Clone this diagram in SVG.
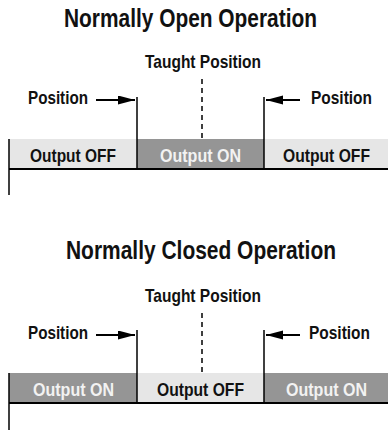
<svg xmlns="http://www.w3.org/2000/svg" width="388" height="430" viewBox="0 0 388 430">
<defs>
<marker id="ah" markerUnits="userSpaceOnUse" markerWidth="18" markerHeight="10" refX="17" refY="4.5" orient="auto">
<path d="M0,0 L17,4.5 L0,9 Z" fill="#000"/>
</marker>
<style>
text{font-family:"Liberation Sans",Arial,sans-serif;font-weight:bold;fill:#111;}
.title{font-size:25px;}
.lbl{font-size:19px;}
.on{fill:#f2f2f2;}
.light{fill:#e6e6e6;}
.dark{fill:#959595;}
.ln{stroke:#000;stroke-width:1.5;fill:none;}
.base{stroke:#000;stroke-width:2;fill:none;}
.dash{stroke:#000;stroke-width:1.5;stroke-dasharray:5 4;fill:none;}
.arr{stroke:#000;stroke-width:1.8;fill:none;marker-end:url(#ah);}
</style>
</defs>
<rect width="388" height="430" fill="#fff"/>

<!-- Normally Open -->
<g id="title-no"><text class="title" x="64" y="27" textLength="253" lengthAdjust="spacingAndGlyphs">Normally Open Operation</text></g>
<g id="taught-no"><text class="lbl" x="145" y="68" textLength="116" lengthAdjust="spacingAndGlyphs">Taught Position</text></g>
<g id="pos-left-no"><text class="lbl" x="28" y="104" textLength="60" lengthAdjust="spacingAndGlyphs">Position</text></g>
<g id="pos-right-no"><text class="lbl" x="311" y="104" textLength="61" lengthAdjust="spacingAndGlyphs">Position</text></g>
<g id="band-no-1"><rect class="light" x="9" y="139" width="128" height="30"/><text class="lbl" x="30" y="162" textLength="86" lengthAdjust="spacingAndGlyphs">Output OFF</text></g>
<g id="band-no-2"><rect class="dark" x="137" y="139" width="127" height="30"/><text class="lbl on" x="160" y="162" textLength="81" lengthAdjust="spacingAndGlyphs">Output ON</text></g>
<g id="band-no-3"><rect class="light" x="264" y="139" width="124" height="30"/><text class="lbl" x="283" y="162" textLength="87" lengthAdjust="spacingAndGlyphs">Output OFF</text></g>

<!-- Normally Closed -->
<g id="title-nc"><text class="title" x="66" y="259" textLength="270" lengthAdjust="spacingAndGlyphs">Normally Closed Operation</text></g>
<g id="taught-nc"><text class="lbl" x="145" y="302" textLength="116" lengthAdjust="spacingAndGlyphs">Taught Position</text></g>
<g id="pos-left-nc"><text class="lbl" x="28" y="339" textLength="60" lengthAdjust="spacingAndGlyphs">Position</text></g>
<g id="pos-right-nc"><text class="lbl" x="309" y="339" textLength="61" lengthAdjust="spacingAndGlyphs">Position</text></g>
<g id="band-nc-1"><rect class="dark" x="9" y="373" width="128" height="30"/><text class="lbl on" x="33" y="396" textLength="81" lengthAdjust="spacingAndGlyphs">Output ON</text></g>
<g id="band-nc-2"><rect class="light" x="137" y="373" width="127" height="30"/><text class="lbl" x="157" y="396" textLength="87" lengthAdjust="spacingAndGlyphs">Output OFF</text></g>
<g id="band-nc-3"><rect class="dark" x="264" y="373" width="124" height="30"/><text class="lbl on" x="286" y="396" textLength="81" lengthAdjust="spacingAndGlyphs">Output ON</text></g>

<g id="connectors">
<line class="base" x1="9" y1="169" x2="388" y2="169"/>
<line class="ln" x1="9" y1="139" x2="9" y2="195"/>
<line class="ln" x1="137" y1="97" x2="137" y2="169"/>
<line class="ln" x1="264" y1="97" x2="264" y2="169"/>
<line class="dash" x1="202" y1="79" x2="202" y2="139"/>
<line class="arr" x1="96" y1="100" x2="135" y2="100"/>
<line class="arr" x1="300" y1="100" x2="266" y2="100"/>

<line class="base" x1="9" y1="403" x2="388" y2="403"/>
<line class="ln" x1="9" y1="373" x2="9" y2="430"/>
<line class="ln" x1="137" y1="330" x2="137" y2="403"/>
<line class="ln" x1="264" y1="330" x2="264" y2="403"/>
<line class="dash" x1="202" y1="313" x2="202" y2="373"/>
<line class="arr" x1="96" y1="335" x2="135" y2="335"/>
<line class="arr" x1="300" y1="335" x2="266" y2="335"/>
</g>
</svg>
